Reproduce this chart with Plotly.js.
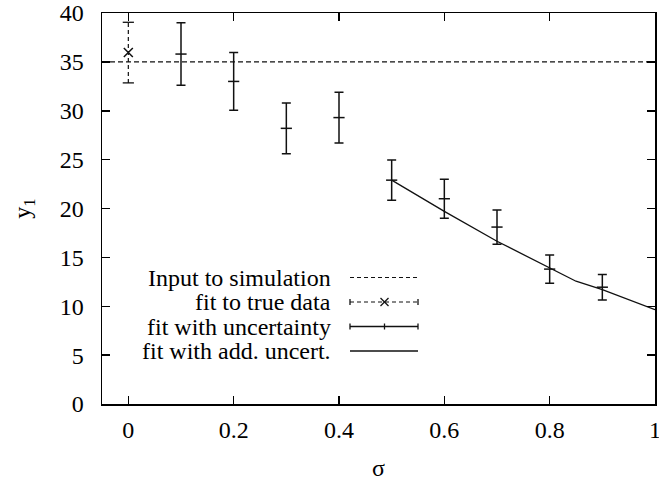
<!DOCTYPE html>
<html><head><meta charset="utf-8">
<script src="https://cdn.plot.ly/plotly-3.0.1.min.js"></script>
<style>html,body{margin:0;padding:0;background:#fff}</style>
</head><body>
<div id="chart" style="width:659px;height:482px"></div>
<script>
// ---- data ----
const inputLevel = 35;
const xRange = [-0.05, 1];
const yRange = [0, 40];
const trueX = [0];
const trueY = [35.95];
const trueErr = [3.1];
const uncX = [0.1, 0.2, 0.3, 0.4, 0.5, 0.6, 0.7, 0.8, 0.9];
const uncY = [35.8, 33.0, 28.2, 29.3, 22.9, 21.0, 18.1, 13.8, 11.95];
const uncErr = [3.2, 2.95, 2.6, 2.6, 2.05, 2.0, 1.75, 1.45, 1.3];
const addX = [0.5, 0.6, 0.7, 0.8, 0.85, 0.9, 1.0];
const addY = [22.9, 19.7, 16.65, 13.93, 12.56, 11.7, 9.65];
const xTicks = [0, 0.2, 0.4, 0.6, 0.8, 1];
const xTickText = ['0', '0.2', '0.4', '0.6', '0.8', '1'];
const yTicks = [0, 5, 10, 15, 20, 25, 30, 35, 40];
const legendLabels = ['Input to simulation', 'fit to true data', 'fit with uncertainty', 'fit with add. uncert.'];

// ---- layout helpers ----
const W = 659, H = 482;
const M = {l: 102, r: 4, t: 13, b: 78};
const PW = W - M.l - M.r, PH = H - M.t - M.b;
const px = v => (v - M.l) / PW;
const py = v => (H - M.b - v) / PH;
const INK = '#111';
const FONT = '"Liberation Serif", "Times New Roman", serif';

const traces = [
  {x: xRange, y: [inputLevel, inputLevel], mode: 'lines',
   line: {color: INK, width: 1.2, dash: '5px,3px'}, hoverinfo: 'skip'},
  {x: [trueX[0], trueX[0]], y: [trueY[0] - trueErr[0], trueY[0] + trueErr[0]],
   mode: 'lines+markers', line: {color: INK, width: 1.2, dash: '4px,3px'},
   marker: {symbol: 'line-ew', size: 8, line: {color: INK, width: 1.3}}},
  {x: trueX, y: trueY, mode: 'markers',
   marker: {symbol: 'x-thin', size: 9, line: {color: INK, width: 1.5}}},
  {x: uncX, y: uncY, mode: 'markers',
   marker: {symbol: 'line-ew', size: 8, line: {color: INK, width: 1.5}},
   error_y: {type: 'data', array: uncErr, visible: true, width: 4.5, thickness: 1.5, color: INK}},
  {x: addX, y: addY, mode: 'lines', line: {color: INK, width: 1.3}}
];

// ---- hand-made gnuplot-style key ----
const rowsY = [277.5, 302, 326.5, 351];
const sx0 = 350, sx1 = 418, smid = 384.5;
const shapes = [];
const annotations = [];
const seg = (x0, y0, x1, y1, extra) => Object.assign({type: 'line', xref: 'paper', yref: 'paper',
  x0: px(x0), y0: py(y0), x1: px(x1), y1: py(y1), line: {color: INK, width: 1.3}}, extra || {});
legendLabels.forEach((t, i) => {
  annotations.push({text: t, xref: 'paper', yref: 'paper', x: px(333), y: py(rowsY[i]),
    xanchor: 'right', yanchor: 'middle', showarrow: false,
    font: {family: FONT, size: 24, color: '#000'}});
});
shapes.push(seg(sx0, rowsY[0], sx1, rowsY[0], {line: {color: INK, width: 1.2, dash: '4px,3px'}}));
shapes.push(seg(sx0, rowsY[1], sx1, rowsY[1], {line: {color: INK, width: 1.2, dash: '4px,3px'}}));
shapes.push(seg(sx0, rowsY[1] - 3, sx0, rowsY[1] + 3));
shapes.push(seg(sx1, rowsY[1] - 3, sx1, rowsY[1] + 3));
shapes.push(seg(smid - 4, rowsY[1] - 4, smid + 4, rowsY[1] + 4));
shapes.push(seg(smid - 4, rowsY[1] + 4, smid + 4, rowsY[1] - 4));
shapes.push(seg(sx0, rowsY[2], sx1, rowsY[2]));
shapes.push(seg(sx0, rowsY[2] - 3, sx0, rowsY[2] + 3));
shapes.push(seg(sx1, rowsY[2] - 3, sx1, rowsY[2] + 3));
shapes.push(seg(smid, rowsY[2] - 3, smid, rowsY[2] + 3));
shapes.push(seg(sx0, rowsY[3], sx1, rowsY[3]));

const axisCommon = {
  ticks: 'inside', ticklen: 8, tickwidth: 1.5, tickcolor: '#000',
  showline: true, mirror: 'ticks', linewidth: 1.5, linecolor: '#000',
  showgrid: false, zeroline: false, automargin: false,
  ticklabeloverflow: 'allow',
  tickfont: {family: FONT, size: 24, color: '#000'}
};

const layout = {
  width: W, height: H, margin: M, showlegend: false,
  paper_bgcolor: '#fff', plot_bgcolor: '#fff',
  font: {family: FONT, size: 24, color: '#000'},
  xaxis: Object.assign({}, axisCommon, {range: xRange, tickmode: 'array',
    tickvals: xTicks, ticktext: xTickText, ticklabelstandoff: 4,
    title: {text: 'σ', font: {family: FONT, size: 24}, standoff: 17}}),
  yaxis: Object.assign({}, axisCommon, {range: yRange, tickmode: 'array',
    tickvals: yTicks, ticklabelstandoff: 12,
    title: {text: 'y<sub>1</sub>', font: {family: FONT, size: 24}, standoff: 22}}),
  shapes: shapes, annotations: annotations
};

Plotly.newPlot('chart', traces, layout, {staticPlot: true, displayModeBar: false});
</script>
</body></html>
